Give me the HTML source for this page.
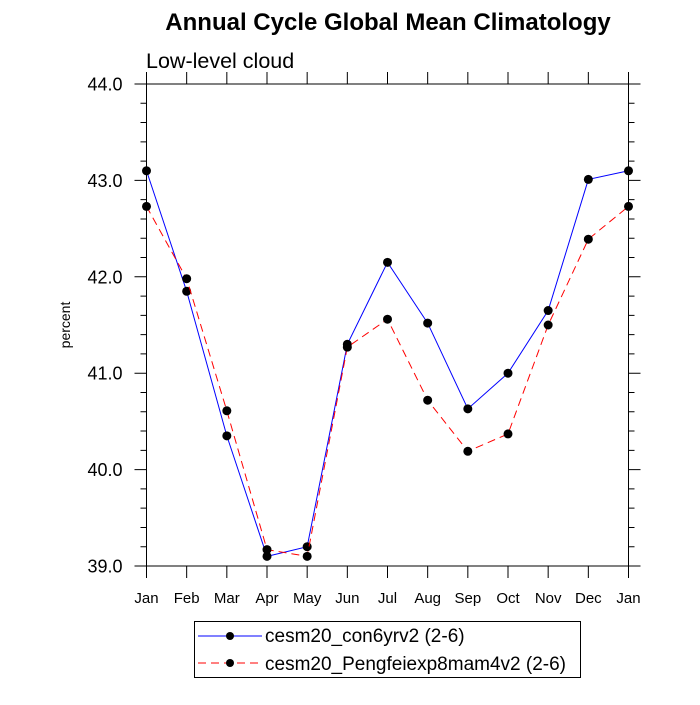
<!DOCTYPE html>
<html><head><meta charset="utf-8"><style>
body{margin:0;background:#fff}
svg text{font-family:"Liberation Sans",sans-serif}
</style></head><body>
<svg id="chart" width="700" height="700">
<text x="388" y="30" font-size="24" font-weight="bold" text-anchor="middle">Annual Cycle Global Mean Climatology</text>
<text x="146" y="68" font-size="21.5">Low-level cloud</text>
<text transform="translate(70,325) rotate(-90)" font-size="14" text-anchor="middle">percent</text>
<g id="axes"></g>
<g id="series"></g>
<g>
<rect x="194.5" y="621.5" width="386" height="56" fill="#fff" stroke="#000"/>
<line x1="198" y1="636" x2="262" y2="636" stroke="#00f"/>
<circle cx="230" cy="636" r="4"/>
<text x="265" y="642" font-size="19">cesm20_con6yrv2 (2-6)</text>
<line x1="198" y1="663" x2="262" y2="663" stroke="#f00" stroke-dasharray="8,5"/>
<circle cx="230" cy="663" r="4"/>
<text x="265" y="670" font-size="19">cesm20_Pengfeiexp8mam4v2 (2-6)</text>
</g>
</svg>
<script>
const months=["Jan","Feb","Mar","Apr","May","Jun","Jul","Aug","Sep","Oct","Nov","Dec","Jan"];
const seriesA=[43.10,41.85,40.35,39.10,39.20,41.30,42.15,41.52,40.63,41.00,41.65,43.01,43.10];
const seriesB=[42.73,41.98,40.61,39.17,39.10,41.27,41.56,40.72,40.19,40.37,41.50,42.39,42.73];
const yTicks=[39,40,41,42,43,44];
const NS="http://www.w3.org/2000/svg";
const L=146.5,R=628.5,T=84,B=566,ymin=39,ymax=44;
const xs=i=>L+(R-L)*i/(months.length-1);
const ys=v=>B-(v-ymin)/(ymax-ymin)*(B-T);
function mk(tag,attrs,parent){const e=document.createElementNS(NS,tag);for(const k in attrs)e.setAttribute(k,attrs[k]);parent.appendChild(e);return e;}
const ax=document.getElementById('axes');
let fr=mk('rect',{x:L,y:T,width:R-L,height:B-T,fill:'none',stroke:'#000'},ax);


let tp='';
months.forEach((m,i)=>{const x=xs(i);tp+=`M${x},${B}V${B+12}M${x},${T}V${T-12}`;
 const t=mk('text',{x:x,y:B+37,'font-size':15,'text-anchor':'middle'},ax);t.textContent=m;
 
 });
for(let v=ymin;v<=ymax+1e-9;v+=0.2){const y=ys(v);const maj=Math.abs(v-Math.round(v))<1e-6;const l=maj?12:6;tp+=`M${L},${y}H${L-l}M${R},${y}H${R+l}`;}
yTicks.forEach(v=>{const t=mk('text',{x:L-24,y:ys(v)+6.5,'font-size':18,'text-anchor':'end'},ax);t.textContent=v.toFixed(1);
 
 });
const tk=mk('path',{d:tp,stroke:'#000',fill:'none'},ax);


const sg=document.getElementById('series');
function draw(vals,color,dash,name){
 const p=mk('polyline',{points:vals.map((v,i)=>xs(i)+','+ys(v)).join(' '),fill:'none',stroke:color,'stroke-dasharray':dash},sg);
 
 
 vals.forEach((v,i)=>{const c=mk('circle',{cx:xs(i),cy:ys(v),r:4.5,fill:'#000'},sg);
  
  });
}
draw(seriesA,'#00f','none','series-con6yrv2');
draw(seriesB,'#f00','8,5','series-pengfei');
</script>
</body></html>
